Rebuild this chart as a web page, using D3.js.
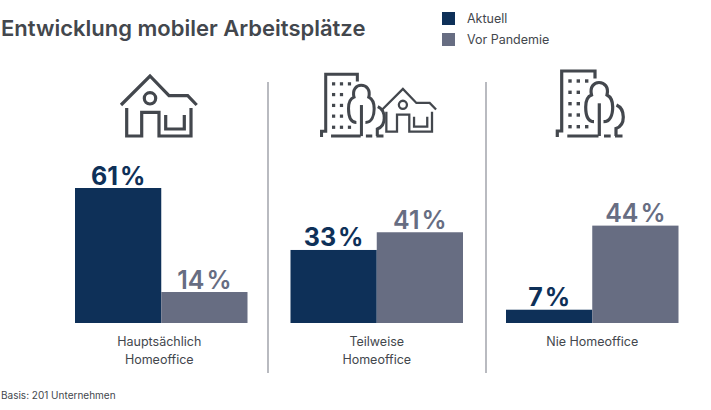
<!DOCTYPE html>
<html lang="en">
<head>
<meta charset="utf-8">
<style>
  html, body { margin: 0; padding: 0; background: #fff; }
  svg { display: block; }
  text { font-family: Inter, "Noto Sans", sans-serif; }
</style>
</head>
<body>
<script src="https://cdn.jsdelivr.net/npm/d3@7"></script>
<script>
"use strict";

const categories = ["Hauptsächlich|Homeoffice", "Teilweise|Homeoffice", "Nie Homeoffice"];
const seriesNames = ["Aktuell", "Vor Pandemie"];
// bar heights (the 7 % bar is drawn shorter in the original)
const aktuell = [61, 33, 6];
const vorPandemie = [14, 41, 44];
const aktuellLabels = ["61", "33", "7"];
const vorPandemieLabels = ["14", "41", "44"];
const colors = ["#0e3058", "#676d82"];
const grey = "#43474d";

const svg = d3.select("body").append("svg").attr("width", 711).attr("height", 410);

const x0 = d3.scaleBand().domain(d3.range(3)).range([75, 721.5]);
const x1 = d3.scaleBand().domain([0, 1]).range([0, 172.5]);
const y = d3.scaleLinear().domain([0, 61]).range([323, 188]);

// title
svg.append("text").attr("x", 1).attr("y", 36).attr("font-size", 22).attr("font-weight", 600)
  .attr("fill", grey).text("Entwicklung mobiler Arbeitsplätze");

// legend
seriesNames.forEach((s, i) => {
  const g = svg.append("g").attr("transform", `translate(442,${12 + i * 21})`);
  g.append("rect").attr("width", 13).attr("height", 13).attr("fill", colors[i]);
  g.append("text").attr("x", 25).attr("y", 11).attr("font-size", 12.5).attr("fill", grey).text(s);
});

// dividers
[268, 486].forEach(d => {
  svg.append("line").attr("x1", d).attr("x2", d).attr("y1", 82).attr("y2", 373)
    .attr("stroke", "#8a8d96").attr("stroke-width", 1.2);
});

// bars + labels
const groups = svg.selectAll("g.panel").data(categories).join("g")
  .attr("class", "panel")
  .attr("transform", (d, i) => `translate(${x0(i)},0)`);

[aktuell, vorPandemie].forEach((vals, s) => {
  const labels = s ? vorPandemieLabels : aktuellLabels;
  groups.append("rect")
    .attr("x", x1(s)).attr("width", x1.bandwidth())
    .attr("y", (d, i) => y(vals[i]))
    .attr("height", (d, i) => y(0) - y(vals[i]))
    .attr("fill", colors[s]);
  groups.append("text")
    .attr("x", x1(s) + x1.bandwidth() / 2)
    .attr("y", (d, i) => y(vals[i]) - 3.5)
    .attr("text-anchor", "middle").attr("font-size", 25).attr("font-weight", s ? 600 : 700)
    .attr("fill", colors[s])
    .text((d, i) => labels[i] + "\u200A%");
});

groups.append("text")
  .attr("text-anchor", "middle").attr("font-size", 12.5).attr("fill", grey)
  .attr("y", 346)
  .attr("transform", (d, i) => `translate(${i ? 0 : -2},0)`)
  .selectAll("tspan").data(d => d.split("|")).join("tspan")
  .attr("x", 86.25).attr("dy", (d, i) => i ? 18 : 0).text(d => d);

svg.append("text").attr("x", 1).attr("y", 399).attr("font-size", 10).attr("fill", grey)
  .text("Basis: 201 Unternehmen");

// icons
function addHouse(sel) {
  const g = sel.append("g").attr("fill", "none").attr("stroke", grey).attr("stroke-width", 3.2);
  g.append("path").attr("d", "M21 45L50 16L69 35.7H87.7L96.7 45");
  g.append("path").attr("d", "M26.7 48V76H41.7V52.3H59V76H91V48");
  g.append("path").attr("d", "M65.7 55V69H84.3V55");
  g.append("circle").attr("cx", 50).attr("cy", 38.3).attr("r", 5.7);
}
function addTower(sel) {
  const g = sel.append("g").attr("fill", "none").attr("stroke", grey).attr("stroke-width", 3.2);
  g.append("path").attr("d", "M17.3 77V71H21.7V11H55V18.5");
  g.append("path").attr("d", "M27.3 76H58.5M64 76H70.7M75 76H82.5");
  g.append("path").attr("d", "M59.3 43.3V76");
  g.append("path").attr("d", "M54 61.7C48 61.7 45.7 55 45.7 47C45.7 40 47.5 36.5 51.5 35C49.5 27 54 22.5 59 22.5C64.5 22.5 69 27 67 35C71 37 72.7 41 72.7 47C72.7 55 70 61.7 63.5 61.7");
  g.append("path").attr("d", "M76.5 45C81 47 83.3 51 83.3 57C83.3 63 80.5 67 76 68.5V76");
  const wy = [21, 32.3, 43.7, 55, 66.7];
  const wx = [30, 38.3, 46.7];
  wy.forEach((yy, r) => {
    wx.slice(0, r === 0 || r === 4 ? 3 : 2).forEach(xx => {
      sel.append("rect").attr("x", xx - 1.7).attr("y", yy - 1.7).attr("width", 3.4).attr("height", 3.4).attr("fill", grey);
    });
  });
}

addHouse(svg.append("g").attr("transform", "translate(100,60)"));
addTower(svg.append("g").attr("transform", "translate(305.1,63.9) scale(.95)"));
addHouse(svg.append("g").attr("transform", "translate(367.4,77.6) scale(.71)"));
addTower(svg.append("g").attr("transform", "translate(540,60)"));
</script>
</body>
</html>
